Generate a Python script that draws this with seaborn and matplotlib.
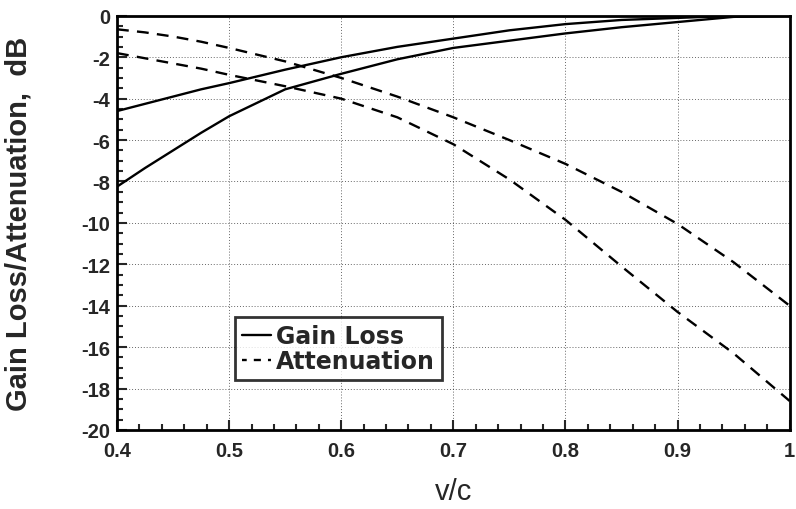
import matplotlib
matplotlib.use("Agg")
import matplotlib.pyplot as plt
import matplotlib.ticker as mtick
from matplotlib.lines import Line2D
import pandas as pd
import seaborn as sns

# ── Data ──────────────────────────────────────────────────────────────────
v_c = [0.400, 0.425, 0.450, 0.475, 0.50, 0.55, 0.60, 0.65, 0.70,
       0.75, 0.80, 0.85, 0.90, 0.95, 1.00]

gain_loss_a = [-4.6, -4.25, -3.9, -3.55, -3.25, -2.6, -2.0, -1.5, -1.1,
               -0.7, -0.4, -0.2, -0.1, 0.0, 0.0]
gain_loss_b = [-8.25, -7.35, -6.5, -5.65, -4.85, -3.55, -2.8, -2.1, -1.55,
               -1.2, -0.85, -0.55, -0.3, -0.05, 0.0]
atten_a = [-0.65, -0.8, -1.0, -1.25, -1.55, -2.2, -3.0, -3.9, -4.9,
           -6.0, -7.15, -8.5, -10.05, -11.9, -14.0]
atten_b = [-1.8, -2.05, -2.3, -2.55, -2.85, -3.4, -4.0, -4.9, -6.2,
           -7.9, -9.85, -12.1, -14.3, -16.3, -18.6]

x_ticks = [0.4, 0.5, 0.6, 0.7, 0.8, 0.9, 1.0]
x_tick_labels = ["0.4", "0.5", "0.6", "0.7", "0.8", "0.9", "1"]
y_ticks = [0, -2, -4, -6, -8, -10, -12, -14, -16, -18, -20]

n = len(v_c)
df = pd.DataFrame({
    "v/c": v_c * 4,
    "dB": gain_loss_a + gain_loss_b + atten_a + atten_b,
    "curve": ["gl_a"] * n + ["gl_b"] * n + ["at_a"] * n + ["at_b"] * n,
})

# ── Style ─────────────────────────────────────────────────────────────────
sns.set_style("ticks")
plt.rcParams["font.family"] = ["Liberation Sans", "DejaVu Sans"]

DASH = (0, (5, 3.5))

fig = plt.figure(figsize=(7.96, 5.1), dpi=100)
ax = fig.add_axes([0.147, 0.155, 0.845, 0.812])

for name, ls in [("gl_a", "-"), ("gl_b", "-"), ("at_a", DASH), ("at_b", DASH)]:
    sub = df[df["curve"] == name]
    sns.lineplot(data=sub, x="v/c", y="dB", ax=ax, color="black",
                 linewidth=1.7, linestyle=ls, estimator=None, sort=True)

ax.set_xlim(0.4, 1.0)
ax.set_ylim(-20, 0)
ax.set_xticks(x_ticks)
ax.set_xticklabels(x_tick_labels)
ax.set_yticks(y_ticks)
ax.set_yticklabels([str(t) for t in y_ticks])
ax.xaxis.set_minor_locator(mtick.MultipleLocator(0.02))
ax.yaxis.set_minor_locator(mtick.MultipleLocator(0.5))
ax.tick_params(which="both", direction="in", top=False, right=False,
               labelsize=14.5, width=1.5)
ax.tick_params(axis="x", pad=8)
ax.tick_params(axis="y", pad=5)
ax.tick_params(which="major", length=7)
ax.tick_params(which="minor", length=4)
for lab in ax.get_xticklabels() + ax.get_yticklabels():
    lab.set_fontweight("bold")

ax.grid(True, which="major", color="black", linestyle=(0, (1, 2)),
        linewidth=0.7, alpha=0.6)
for s in ax.spines.values():
    s.set_linewidth(2)
    s.set_color("black")

ax.set_xlabel("v/c", fontsize=21, labelpad=12)
ax.set_ylabel("Gain Loss/Attenuation,  dB", fontsize=21, fontweight="bold")
ax.yaxis.set_label_coords(-0.125, 0.5)

# legend box
handles = [Line2D([], [], color="black", linewidth=1.7),
           Line2D([], [], color="black", linewidth=1.7, linestyle=(1, (3, 3)))]
leg = ax.legend(handles, ["Gain Loss", "Attenuation"], loc="lower left",
                bbox_to_anchor=(0.175, 0.12), frameon=True, fancybox=False,
                prop={"family": "DejaVu Sans", "weight": "bold", "size": 17},
                handlelength=1.25, handletextpad=0.2,
                borderpad=0.3, labelspacing=0.05, borderaxespad=0)
leg.get_frame().set_edgecolor("black")
leg.get_frame().set_linewidth(2)

fig.savefig("out.png", dpi=100)
